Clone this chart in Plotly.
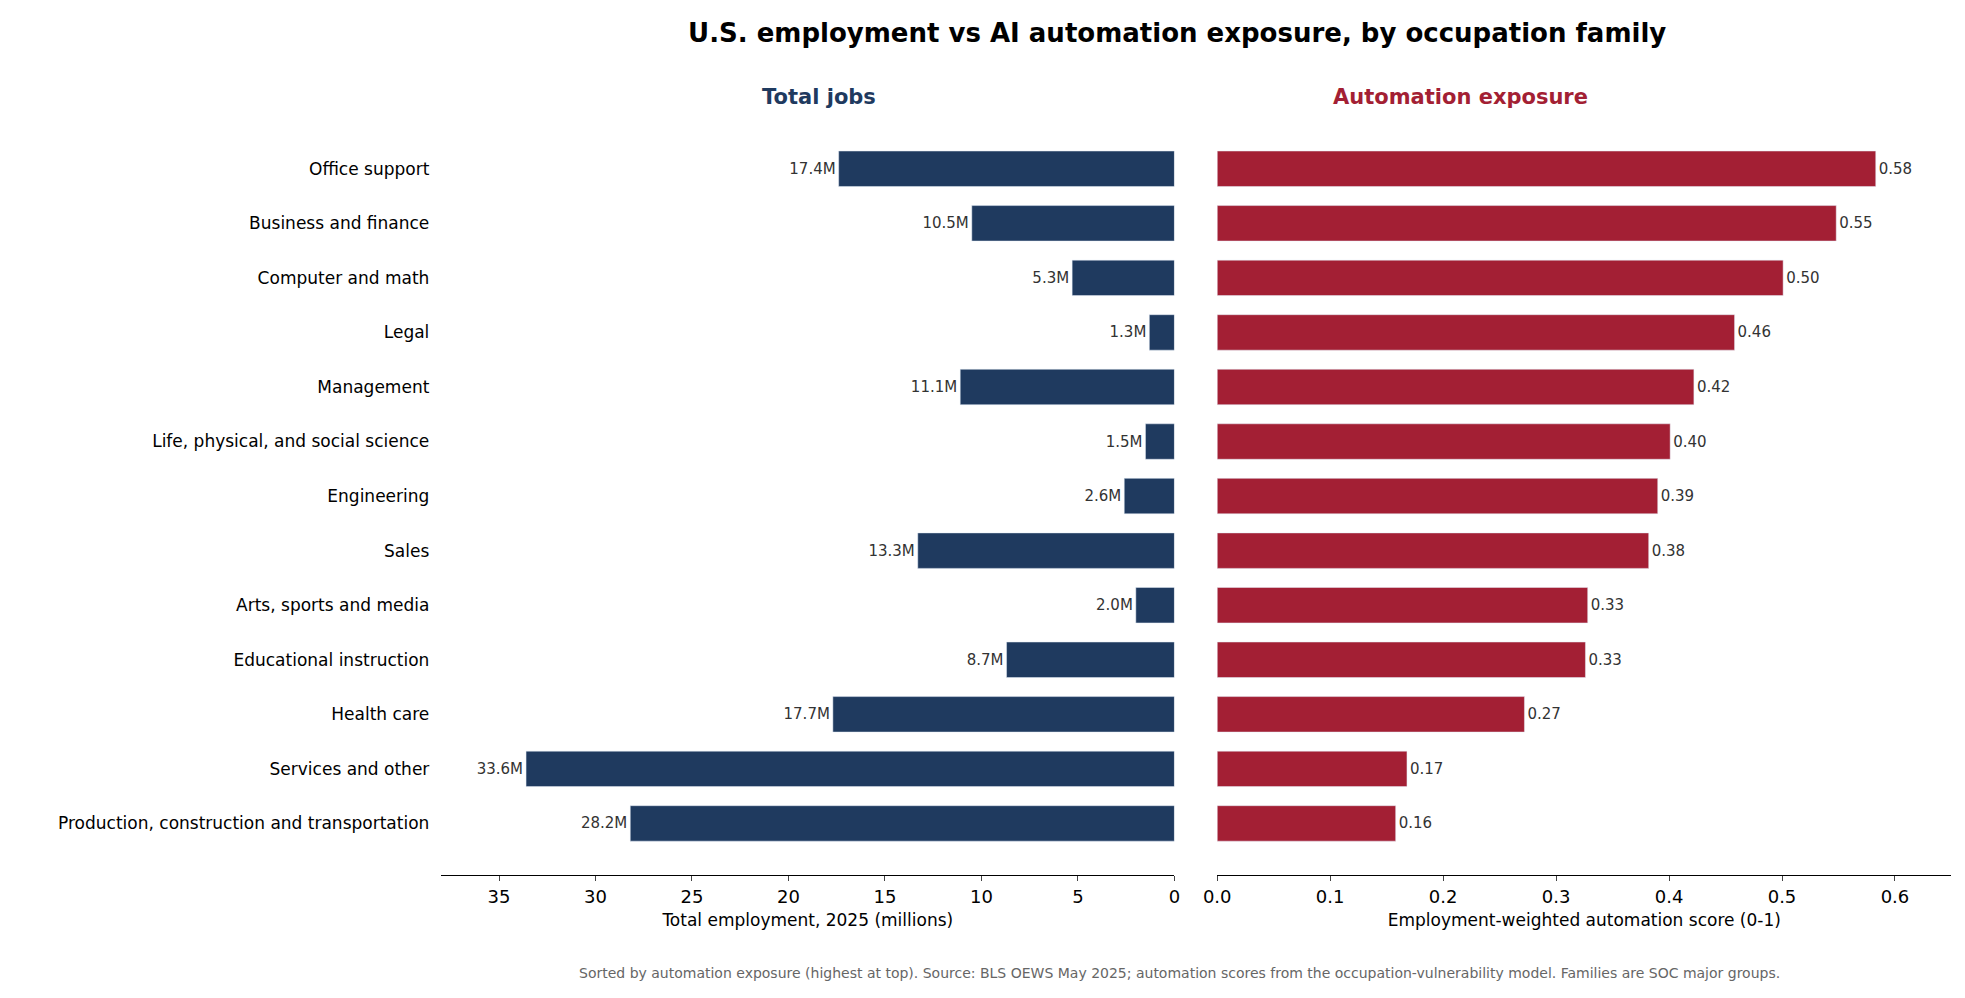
import plotly.graph_objects as go
from plotly.subplots import make_subplots

categories = ["Office support","Business and finance","Computer and math","Legal","Management",
 "Life, physical, and social science","Engineering","Sales","Arts, sports and media",
 "Educational instruction","Health care","Services and other","Production, construction and transportation"]
jobs_m = [17.4,10.5,5.3,1.3,11.1,1.5,2.6,13.3,2.0,8.7,17.7,33.6,28.2]
exposure = [0.583,0.548,0.501,0.458,0.422,0.401,0.390,0.382,0.328,0.326,0.272,0.168,0.158]

navy = "#1f3a5f"; red = "#a31f34"
fig = make_subplots(rows=1, cols=2, shared_yaxes=False, horizontal_spacing=0.02)
fig.add_trace(go.Bar(y=categories, x=jobs_m, orientation="h", marker_color=navy, width=0.65,
    text=[f"{v:.1f}M" for v in jobs_m], textposition="outside", textfont=dict(size=15, color="#333"),
    cliponaxis=False, hoverinfo="x+y"), 1, 1)
fig.add_trace(go.Bar(y=categories, x=exposure, orientation="h", marker_color=red, width=0.65,
    text=[f"{v:.2f}" for v in exposure], textposition="outside", textfont=dict(size=15, color="#333"),
    cliponaxis=False), 1, 2)

fig.update_layout(
    width=1965, height=998, plot_bgcolor="white", paper_bgcolor="white", showlegend=False,
    font=dict(family="DejaVu Sans", size=18, color="black"),
    margin=dict(l=0, r=0, t=0, b=0),
    title=dict(text="<b>U.S. employment vs AI automation exposure, by occupation family</b>",
               x=0.595, xanchor="center", y=0.975, yanchor="middle", font=dict(size=26)),
    xaxis=dict(domain=[0.2155, 0.5925], range=[38, 0], tickvals=[35,30,25,20,15,10,5,0],
               showline=True, linecolor="black", ticks="outside", showgrid=False, zeroline=False,
               tickfont=dict(size=18),
               title=dict(text="Total employment, 2025 (millions)", font=dict(size=17), standoff=8)),
    xaxis2=dict(domain=[0.6145, 0.992], range=[0, 0.65], tickvals=[0,0.1,0.2,0.3,0.4,0.5,0.6],
                tickformat=".1f", showline=True, linecolor="black", ticks="outside", showgrid=False,
                tickfont=dict(size=18), zeroline=False,
                title=dict(text="Employment-weighted automation score (0-1)", font=dict(size=17), standoff=8)),
    yaxis=dict(domain=[0.131, 0.869], range=[12.95, -0.55], showline=False, ticks="", tickfont=dict(size=17),
               ticksuffix="  "),
    yaxis2=dict(domain=[0.131, 0.869], range=[12.95, -0.55], showticklabels=False, showline=False, ticks=""),
)
fig.add_annotation(text="<b>Total jobs</b>", x=0.41, y=0.925, xref="paper", yref="paper",
                   showarrow=False, font=dict(size=21, color=navy))
fig.add_annotation(text="<b>Automation exposure</b>", x=0.806, y=0.925, xref="paper", yref="paper",
                   showarrow=False, font=dict(size=21, color=red))
fig.add_annotation(text="Sorted by automation exposure (highest at top). Source: BLS OEWS May 2025; automation scores from the occupation-vulnerability model. Families are SOC major groups.",
                   x=0.595, y=0.023, xref="paper", yref="paper", showarrow=False,
                   font=dict(size=14, color="#666"))
fig.write_html("out.html")
